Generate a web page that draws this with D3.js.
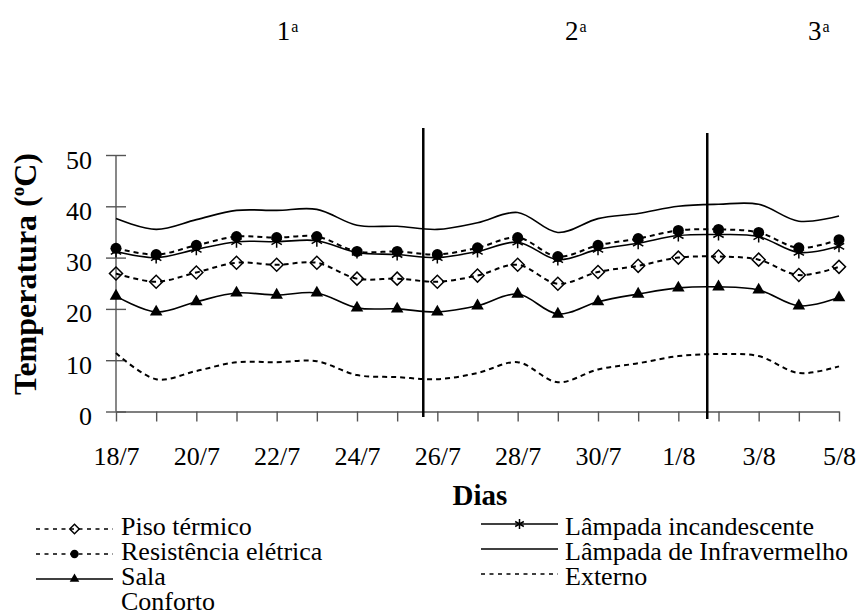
<!DOCTYPE html>
<html>
<head>
<meta charset="utf-8">
<script src="https://cdn.jsdelivr.net/npm/d3@7"></script>
<style>
  body { margin: 0; background: #fff; }
</style>
</head>
<body>
<div class="canvas"></div>
<script>
// data (°C per day)
const days = ['18/7','19/7','20/7','21/7','22/7','23/7','24/7','25/7','26/7','27/7',
  '28/7','29/7','30/7','31/7','1/8','2/8','3/8','4/8','5/8'];
const pisoTermico = [26.9,25.3,27.1,29.0,28.6,29.0,25.9,25.9,25.3,26.5,28.6,24.9,27.2,28.4,30.0,30.2,29.6,26.6,28.2];
const resistencia = [31.8,30.6,32.4,34.1,33.9,34.1,31.2,31.2,30.6,31.9,33.9,30.2,32.4,33.7,35.3,35.5,34.9,31.9,33.5];
const salaConforto = [22.5,19.4,21.4,23.1,22.7,23.1,20.2,20.0,19.4,20.6,22.9,19.0,21.4,22.9,24.1,24.3,23.7,20.6,22.2];
const incandescente = [31.2,30.0,31.6,33.1,33.1,33.3,31.0,30.6,30.0,31.2,33.0,29.6,31.6,32.8,34.3,34.5,34.1,31.0,32.2];
const infravermelho = [37.6,35.5,37.4,39.2,39.2,39.4,36.3,36.1,35.5,36.8,38.8,34.9,37.6,38.6,40.0,40.4,40.4,37.1,38.1];
const externo = [11.4,6.3,7.9,9.6,9.6,9.8,7.1,6.7,6.3,7.5,9.6,5.7,8.2,9.4,10.8,11.2,10.8,7.5,8.8];

const yTicks = [0, 10, 20, 30, 40, 50];
// period separators (in days from 18/7) and their labels
const periodBreaks = [7.65, 14.72];
const periodLabels = ['1', '2', '3'];

const series = [
  { name: 'Piso térmico', values: pisoTermico, dashed: true, marker: 'diamond' },
  { name: 'Resistência elétrica', values: resistencia, dashed: true, marker: 'circle' },
  { name: ['Sala', 'Conforto'], values: salaConforto, dashed: false, marker: 'triangle' },
  { name: 'Lâmpada incandescente', values: incandescente, dashed: false, marker: 'asterisk' },
  { name: 'Lâmpada de Infravermelho', values: infravermelho, dashed: false, marker: null },
  { name: 'Externo', values: externo, dashed: true, marker: null }
];

const FONT = '"Liberation Serif", "Times New Roman", Tinos, serif';

const svg = d3.select('.canvas').append('svg')
  .attr('width', 861)
  .attr('height', 612)
  .style('font-family', FONT);

// scales
const x = d3.scaleLinear().domain([0, days.length - 1]).range([116, 839]);
const y = d3.scaleLinear().domain([0, 50]).range([411.5, 155]);

// axes
const yAxis = d3.axisLeft(y)
  .tickValues(yTicks)
  .tickSize(10)
  .tickPadding(14);
const yAxisGroup = svg.append('g')
  .attr('transform', `translate(${x(0)},0)`)
  .call(yAxis);
yAxisGroup.selectAll('.tick line').attr('x1', 10);
yAxisGroup.select('.domain').attr('d', `M0,${y(0)}V${y(50)}`);

const xAxis = d3.axisBottom(x)
  .tickValues(d3.range(days.length))
  .tickSize(10)
  .tickSizeOuter(0)
  .tickPadding(25)
  .tickFormat(i => i % 2 === 0 ? days[i] : '');
const xAxisGroup = svg.append('g')
  .attr('transform', `translate(0,${y(0)})`)
  .call(xAxis);

[yAxisGroup, xAxisGroup].forEach(g => {
  g.attr('font-family', null).attr('font-size', null);
  g.selectAll('.domain, .tick line')
    .attr('stroke', '#555')
    .attr('stroke-width', 1.4);
  g.selectAll('text')
    .attr('fill', '#000')
    .style('font-family', FONT)
    .style('font-size', '26px');
});
yAxisGroup.selectAll('text').attr('dy', '0.5em');

// period separators
svg.selectAll('.period')
  .data(periodBreaks)
  .enter().append('line')
    .attr('class', 'period')
    .attr('x1', d => x(d))
    .attr('x2', d => x(d))
    .attr('y1', (d, i) => i === 0 ? 128 : 133)
    .attr('y2', (d, i) => i === 0 ? 417 : 419)
    .attr('stroke', '#000')
    .attr('stroke-width', 2.5);

// period labels at top
const labelPos = [4, 11.18, 17.23];
periodLabels.forEach((lab, i) => {
  const t = svg.append('text')
    .attr('x', x(labelPos[i]))
    .attr('y', 40)
    .style('font-family', FONT)
    .style('font-size', '27px');
  t.append('tspan').text(lab);
  t.append('tspan').text('a').style('font-size', '16px').attr('dy', -8).attr('dx', 1);
});

// markers
const markerPath = (type, big) => {
  if (type === 'diamond') return d3.symbol(d3.symbolSquare, big ? 85 : 45)();
  if (type === 'circle') return d3.symbol(d3.symbolCircle, big ? 95 : 55)();
  if (type === 'triangle') return d3.symbol(d3.symbolTriangle, big ? 68 : 40)();
  if (type === 'asterisk') return d3.symbol(d3.symbolAsterisk, big ? 100 : 70)();
  return null;
};
const drawMarker = (g, type, cx, cy, big) => {
  const p = g.append('path')
    .attr('d', markerPath(type, big))
    .attr('transform', `translate(${cx},${cy})` + (type === 'diamond' ? ' rotate(45)' : ''));
  if (type === 'diamond' || type === 'asterisk') {
    p.attr('fill', 'none').attr('stroke', '#000').attr('stroke-width', 1.5);
  } else {
    p.attr('fill', '#000');
  }
};

// lines
const line = d3.line()
  .x((d, i) => x(i))
  .y(d => y(d))
  .curve(d3.curveCatmullRom);

const graph = svg.append('g');
series.forEach(s => {
  graph.append('path')
    .datum(s.values)
    .attr('fill', 'none')
    .attr('stroke', '#000')
    .attr('stroke-width', s.dashed ? 2 : 1.6)
    .attr('stroke-dasharray', s.dashed ? '5,4' : null)
    .attr('d', line);
  if (s.marker) {
    const mg = graph.append('g');
    s.values.forEach((v, i) => drawMarker(mg, s.marker, x(i), y(v), true));
  }
});

// axis titles
const yTitle = svg.append('text')
  .attr('transform', 'translate(36,274) rotate(-90)')
  .attr('text-anchor', 'middle')
  .style('font-family', FONT)
  .style('font-size', '32px')
  .style('font-weight', 'bold');
yTitle.append('tspan').text('Temperatura (');
yTitle.append('tspan').text('o').style('font-size', '19px').attr('dy', -12);
yTitle.append('tspan').text('C)').attr('dy', 12);

svg.append('text')
  .attr('x', 480)
  .attr('y', 505)
  .attr('text-anchor', 'middle')
  .style('font-family', FONT)
  .style('font-size', '29px')
  .style('font-weight', 'bold')
  .text('Dias');

// legend: two columns
const legend = svg.append('g');
const legendRows = [
  { s: series[0], col: 0, row: 0 },
  { s: series[1], col: 0, row: 1 },
  { s: series[2], col: 0, row: 2 },
  { s: series[3], col: 1, row: 0 },
  { s: series[4], col: 1, row: 1 },
  { s: series[5], col: 1, row: 2 }
];
legendRows.forEach(({ s, col, row }) => {
  const x0 = col === 0 ? 36 : 481;
  const x1 = col === 0 ? 113 : 558;
  const base = 535 + row * 25;
  const ly = base - (col === 0 ? 6 : 11);
  legend.append('line')
    .attr('x1', x0).attr('x2', x1)
    .attr('y1', ly).attr('y2', ly)
    .attr('stroke', '#000')
    .attr('stroke-width', s.dashed ? 1.4 : 1.6)
    .attr('stroke-dasharray', s.dashed ? '4,4.5' : null);
  if (s.marker) drawMarker(legend, s.marker, (x0 + x1) / 2, ly, false);
  const names = Array.isArray(s.name) ? s.name : [s.name];
  names.forEach((n, k) => {
    legend.append('text')
      .attr('x', col === 0 ? 121 : 565)
      .attr('y', base + k * 25)
      .style('font-family', FONT)
      .style('font-size', '26px')
      .text(n);
  });
});
</script>
</body>
</html>
